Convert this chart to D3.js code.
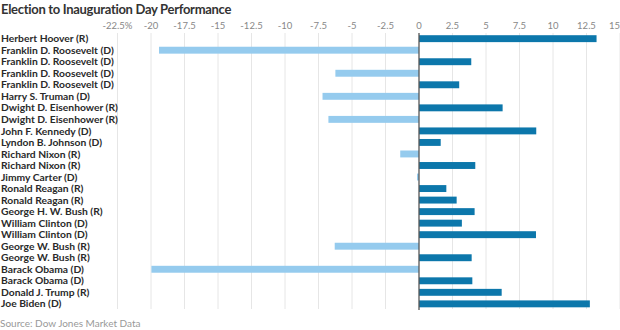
<!DOCTYPE html>
<html>
<head>
<meta charset="utf-8">
<title>Election to Inauguration Day Performance</title>
<style>
body {
	margin: 0;
	background: #fff;
}
svg text {
	font-family: Lato, "Noto Sans", sans-serif;
}
</style>
<script type="text/javascript" src="https://cdn.jsdelivr.net/npm/d3@7"></script>
</head>
<body>
<div id="chart"></div>
<script type="text/javascript">

	var presidents = ["Herbert Hoover (R)", "Franklin D. Roosevelt (D)", "Franklin D. Roosevelt (D)",
		"Franklin D. Roosevelt (D)", "Franklin D. Roosevelt (D)", "Harry S. Truman (D)",
		"Dwight D. Eisenhower (R)", "Dwight D. Eisenhower (R)", "John F. Kennedy (D)",
		"Lyndon B. Johnson (D)", "Richard Nixon (R)", "Richard Nixon (R)", "Jimmy Carter (D)",
		"Ronald Reagan (R)", "Ronald Reagan (R)", "George H. W. Bush (R)", "William Clinton (D)",
		"William Clinton (D)", "George W. Bush (R)", "George W. Bush (R)", "Barack Obama (D)",
		"Barack Obama (D)", "Donald J. Trump (R)", "Joe Biden (D)"];
	// percent change, election day to inauguration day
	var change = [13.25, -19.4, 3.9, -6.24, 3.0, -7.2, 6.24, -6.76, 8.75, 1.62, -1.4, 4.2, -0.15,
		2.04, 2.81, 4.15, 3.2, 8.73, -6.29, 3.93, -19.97, 3.98, 6.17, 12.75];
	var ticks = [-22.5, -20, -17.5, -15, -12.5, -10, -7.5, -5, -2.5, 0, 2.5, 5, 7.5, 10, 12.5, 15];
	var tickLabels = ["-22.5%", "-20", "-17.5", "-15", "-12.5", "-10", "-7.5", "-5", "-2.5", "0",
		"2.5", "5", "7.5", "10", "12.5", "15"];

	var width = 620, height = 330;
	var rows = presidents.map(function (d, i) { return {name: d, value: change[i], i: i}; });

	var x = d3.scaleLinear().domain([-22.5, 15]).range([117.5, 620]);
	var y = d3.scaleBand()
		.domain(d3.range(rows.length))
		.range([32.9, 32.9 + rows.length * 11.53])
		.paddingInner(0.4)
		.paddingOuter(0.2);

	var svg = d3.select("#chart").append("svg")
		.attr("width", width)
		.attr("height", height);

	svg.append("text")
		.attr("x", 1)
		.attr("y", 14)
		.attr("font-size", 13)
		.attr("font-weight", "bold")
		.attr("letter-spacing", -0.3)
		.attr("fill", "#333")
		.text("Election to Inauguration Day Performance");

	// gridlines
	svg.selectAll("line.grid")
		.data(ticks.filter(function (t) { return t != 0; }))
		.enter().append("line")
			.attr("class", "grid")
			.attr("x1", function (d) { return x(d); })
			.attr("x2", function (d) { return x(d); })
			.attr("y1", 33)
			.attr("y2", 309)
			.attr("stroke", "#e6e6e6")
			.attr("stroke-width", 1);

	svg.selectAll("text.tick")
		.data(ticks)
		.enter().append("text")
			.attr("class", "tick")
			.attr("x", function (d) { return x(d); })
			.attr("y", 29)
			.attr("text-anchor", function (d, i) { return i == ticks.length - 1 ? "end" : "middle"; })
			.attr("font-size", 9.5)
			.attr("fill", "#888")
			.text(function (d, i) { return tickLabels[i]; });

	svg.selectAll("rect.bar")
		.data(rows)
		.enter().append("rect")
			.attr("class", "bar")
			.attr("x", function (d) { return x(Math.min(0, d.value)); })
			.attr("y", function (d) { return y(d.i); })
			.attr("width", function (d) { return Math.abs(x(d.value) - x(0)); })
			.attr("height", y.bandwidth())
			.attr("fill", function (d) { return d.value < 0 ? "#95cbee" : "#0c77ab"; });

	svg.append("line")
		.attr("x1", x(0))
		.attr("x2", x(0))
		.attr("y1", 33)
		.attr("y2", 310)
		.attr("stroke", "#555")
		.attr("stroke-width", 1.3);

	svg.selectAll("text.name")
		.data(rows)
		.enter().append("text")
			.attr("class", "name")
			.attr("x", 1)
			.attr("y", function (d) { return y(d.i) + y.bandwidth() / 2; })
			.attr("dy", "0.35em")
			.attr("font-size", 10.3)
			.attr("font-weight", "bold")
			.attr("fill", "#2a2a2a")
			.text(function (d) { return d.name; });

	svg.append("text")
		.attr("x", 0)
		.attr("y", 327)
		.attr("font-size", 10)
		.attr("fill", "#999")
		.text("Source: Dow Jones Market Data");
</script>
</body>
</html>
